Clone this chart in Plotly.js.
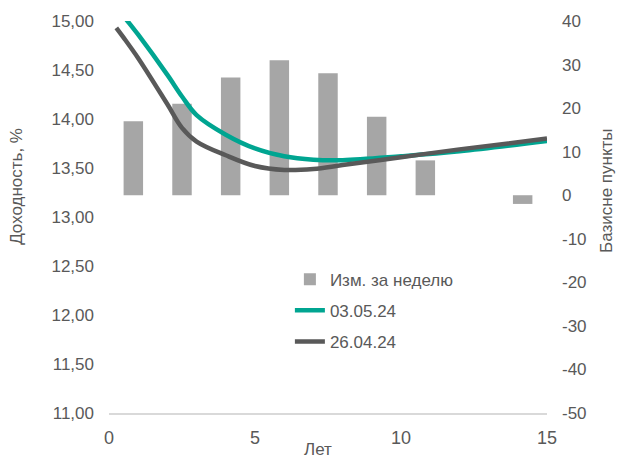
<!DOCTYPE html>
<html>
<head>
<meta charset="utf-8">
<script src="https://cdn.plot.ly/plotly-3.0.1.min.js"></script>
<style>html,body{margin:0;padding:0;background:#fff;}#chart{width:618px;height:458px;}</style>
</head>
<body>
<div id="chart"></div>
<script>
// Weekly change (basis points), 9 bar slots
var barCategories = ['c1','c2','c3','c4','c5','c6','c7','c8','c9'];
var barChange = [17, 21, 27, 31, 28, 18, 8, 0, -2];

// Yield curves (years, %)
var years = [0.25, 0.5, 1, 2, 2.5, 3, 4, 5, 6, 7, 8, 10, 12, 15];
var yield030524 = [15.15, 15.05, 14.86, 14.45, 14.23, 14.04, 13.84, 13.70, 13.62, 13.585, 13.58, 13.62, 13.67, 13.775];
var yield260424 = [14.93, 14.83, 14.62, 14.15, 13.91, 13.77, 13.63, 13.52, 13.48, 13.49, 13.53, 13.61, 13.69, 13.80];

// Right axis tick labels
var bpTickVals = [-50, -40, -30, -20, -10, 0, 10, 20, 30, 40];
var bpTickText = ['-50', '-40', '-30', '-20', '-10', '0', '10', '20', '30', '40'];

var textColor = '#595959';
var fontFam = 'Arial, "Liberation Sans", sans-serif';

var data = [
  {
    type: 'bar', name: 'Изм. за неделю',
    x: barCategories, y: barChange,
    xaxis: 'x', yaxis: 'y',
    marker: {color: '#a6a6a6'},
    legendgroup: 'g1', hoverinfo: 'none'
  },
  {
    type: 'scatter', mode: 'lines', name: '03.05.24',
    x: years, y: yield030524,
    xaxis: 'x2', yaxis: 'y2',
    line: {color: '#00a591', width: 4.5, shape: 'spline', smoothing: 1},
    legendgroup: 'g2', hoverinfo: 'none'
  },
  {
    type: 'scatter', mode: 'lines', name: '26.04.24',
    x: years, y: yield260424,
    xaxis: 'x2', yaxis: 'y2',
    line: {color: '#595959', width: 4.5, shape: 'spline', smoothing: 1},
    legendgroup: 'g3', hoverinfo: 'none'
  }
];

var layout = {
  width: 618, height: 458,
  margin: {l: 109, r: 71, t: 21, b: 45, pad: 0},
  paper_bgcolor: '#ffffff', plot_bgcolor: '#ffffff',
  separators: ', ',
  font: {family: fontFam, color: textColor, size: 17},
  bargap: 0.6,
  showlegend: true,
  legend: {
    x: 0.413, y: 0.386, xanchor: 'left', yanchor: 'top',
    bgcolor: 'rgba(0,0,0,0)', borderwidth: 0,
    font: {family: fontFam, color: textColor, size: 17},
    traceorder: 'grouped', tracegroupgap: 6
  },
  xaxis: {
    type: 'category', visible: false, range: [-0.5, 8.5],
    anchor: 'y', fixedrange: true
  },
  yaxis: {
    side: 'right', anchor: 'x', range: [-50, 40],
    tickvals: bpTickVals, ticktext: bpTickText,
    showgrid: false, zeroline: false, showline: false, ticks: '',
    ticklabelstandoff: 14,
    tickfont: {family: fontFam, color: textColor, size: 17}
  },
  xaxis2: {
    overlaying: 'x', anchor: 'y2', range: [0, 15], dtick: 5, tick0: 0,
    showgrid: false, zeroline: false,
    showline: true, linecolor: '#d9d9d9', linewidth: 1.5,
    ticks: '', ticklabelstandoff: 8,
    tickfont: {family: fontFam, color: textColor, size: 18}
  },
  yaxis2: {
    overlaying: 'y', side: 'left', anchor: 'x2', range: [11, 15], dtick: 0.5, tick0: 11,
    tickformat: '.2f',
    showgrid: false, zeroline: false, showline: false, ticks: '',
    ticklabelstandoff: 14,
    tickfont: {family: fontFam, color: textColor, size: 17}
  },
  annotations: [
    {text: 'Доходность, %', xref: 'paper', yref: 'paper', x: -0.21, y: 0.577,
     xanchor: 'center', yanchor: 'middle', textangle: -90, showarrow: false,
     font: {family: fontFam, color: textColor, size: 17}},
    {text: 'Базисне пункты', xref: 'paper', yref: 'paper', x: 1.136, y: 0.568,
     xanchor: 'center', yanchor: 'middle', textangle: -90, showarrow: false,
     font: {family: fontFam, color: textColor, size: 17}},
    {text: 'Лет', xref: 'paper', yref: 'paper', x: 0.477, y: -0.094,
     xanchor: 'center', yanchor: 'middle', showarrow: false,
     font: {family: fontFam, color: textColor, size: 17}}
  ]
};

Plotly.newPlot('chart', data, layout, {staticPlot: true, displayModeBar: false});
</script>
</body>
</html>
